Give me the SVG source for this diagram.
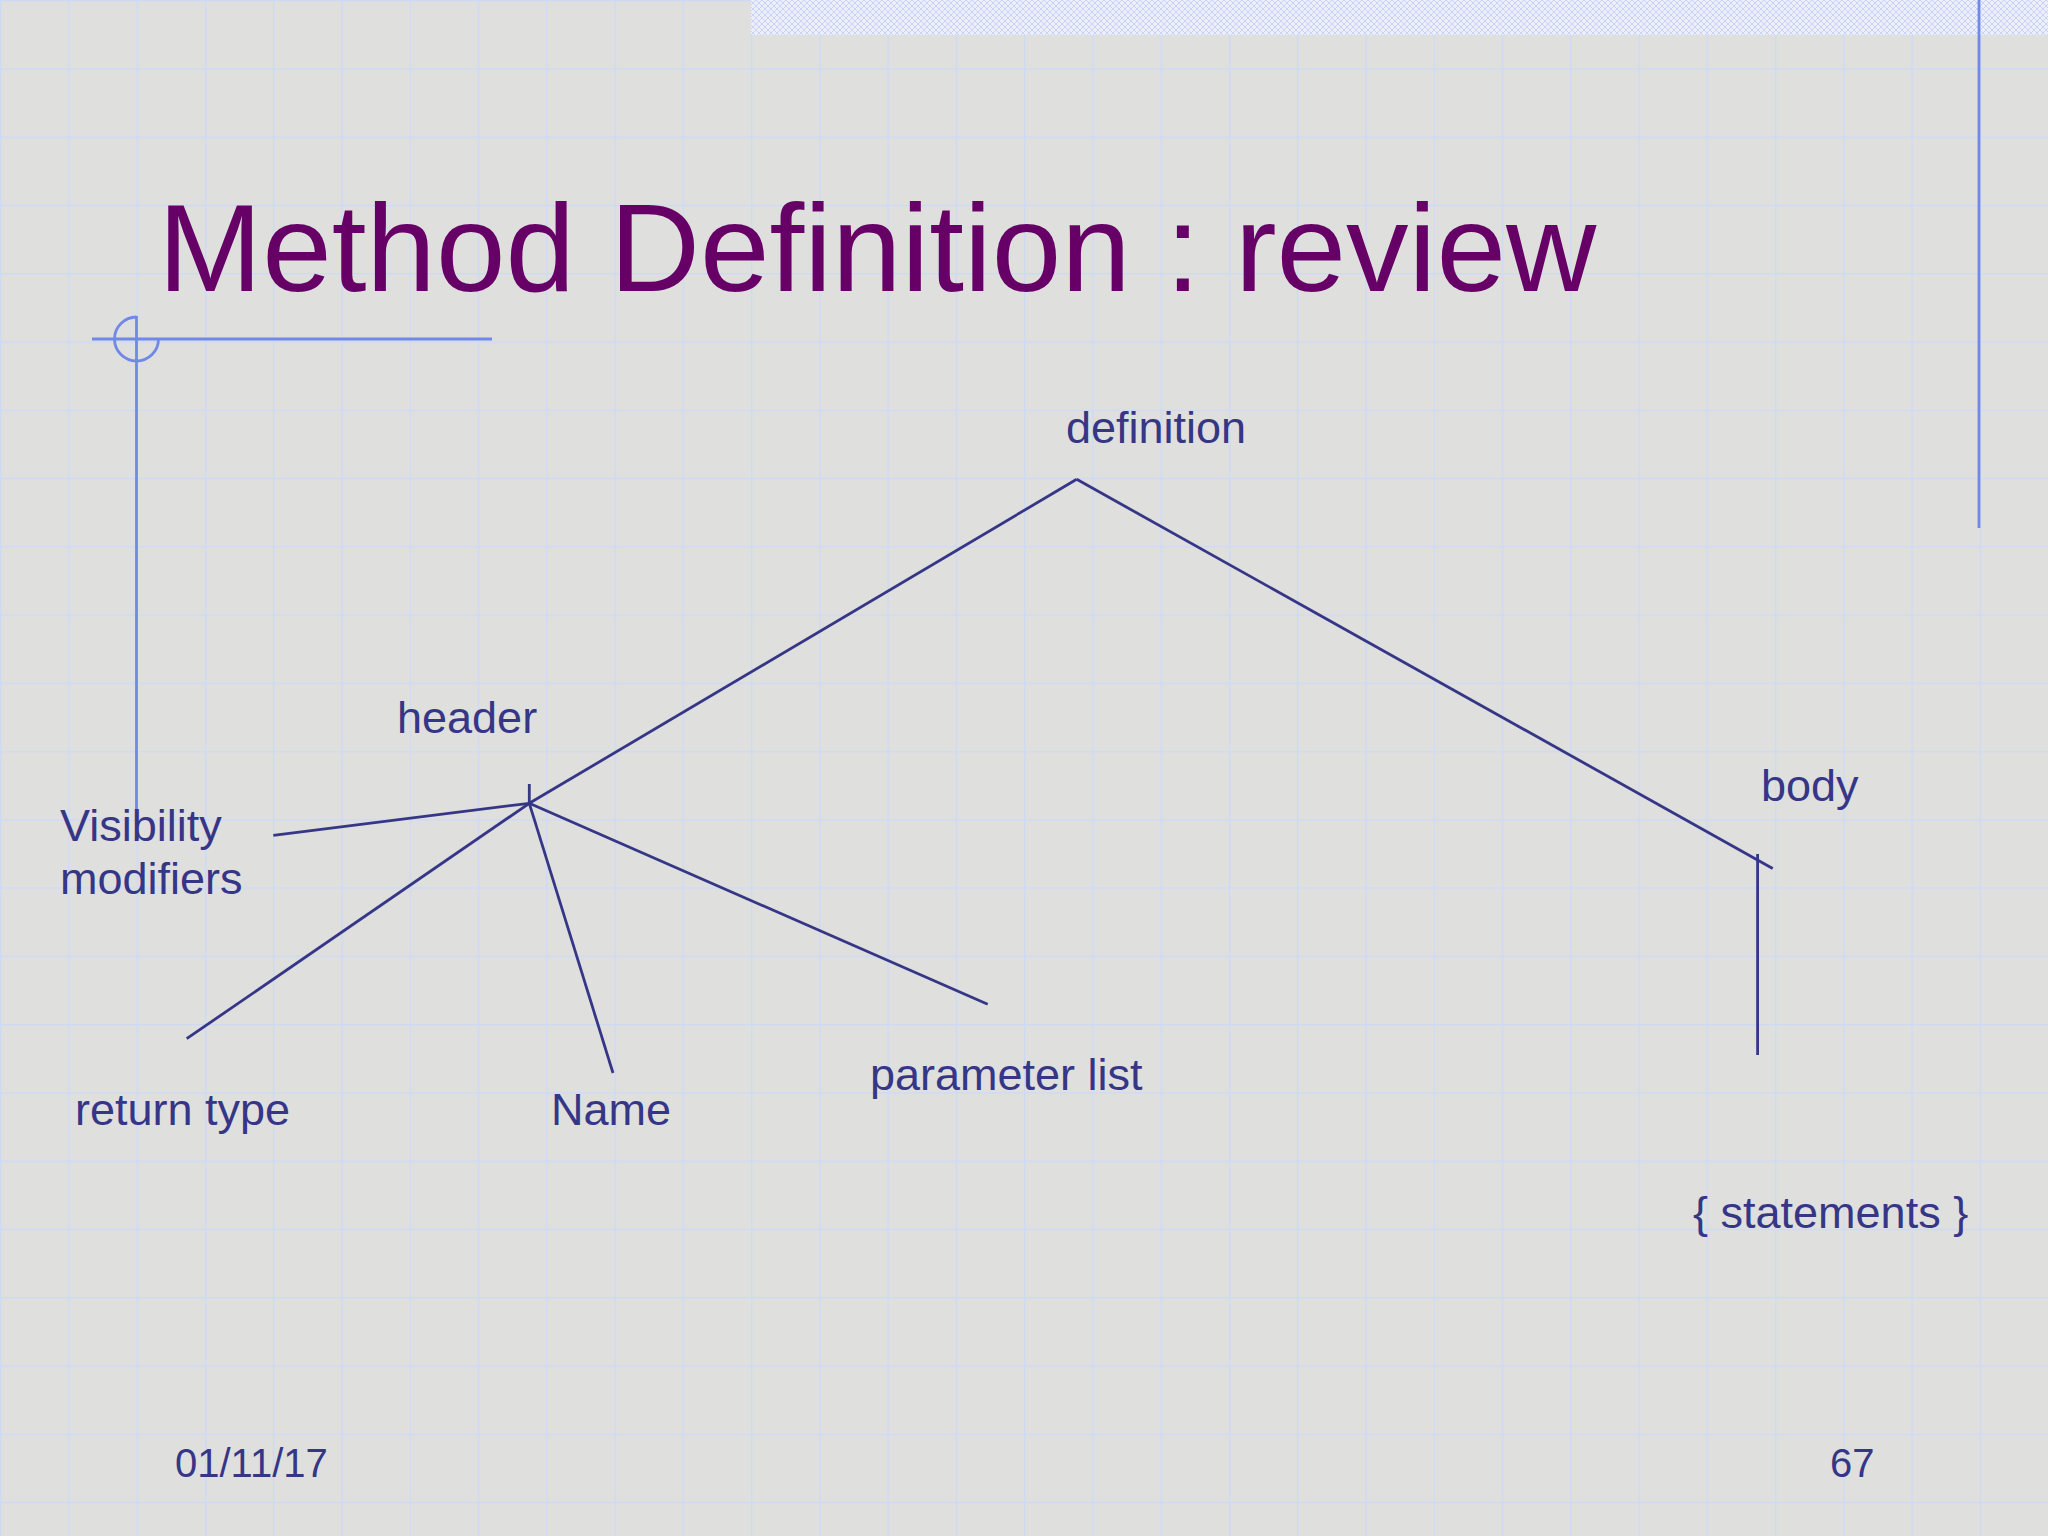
<svg xmlns="http://www.w3.org/2000/svg" width="2048" height="1536" viewBox="0 0 2048 1536">
  <defs>
    <pattern id="grid" x="0" y="0" width="68.267" height="68.267" patternUnits="userSpaceOnUse">
      <rect width="68.267" height="68.267" fill="#dfdfde"/>
      <path d="M0,0 V68.267 M0,0 H68.267" stroke="#cddaf7" stroke-width="2.6" fill="none"/>
    </pattern>
    <pattern id="hatch" x="0" y="0" width="6" height="6" patternUnits="userSpaceOnUse">
      <rect width="6" height="6" fill="#eceff9"/>
      <path d="M0,0 L6,6 M6,0 L0,6" stroke="#c9d3f4" stroke-width="1" fill="none"/>
    </pattern>
    <style>
      .lbl { font-family: "Liberation Sans", Arial, sans-serif; font-size: 45px; fill: #363687; }
      .foot { font-family: "Liberation Sans", Arial, sans-serif; font-size: 40px; fill: #363687; }
      .title { font-family: "Liberation Sans", Arial, sans-serif; font-size: 125px; fill: #660066; }
      .edge { stroke: #363687; stroke-width: 2.8; fill: none; stroke-linecap: butt; }
      .deco { stroke: #7089e6; stroke-width: 2.8; fill: none; }
    </style>
  </defs>

  <!-- background -->
  <rect x="0" y="0" width="2048" height="1536" fill="url(#grid)"/>
  <rect x="751" y="0" width="1297" height="35" fill="url(#hatch)"/>

  <!-- decorations -->
  <g id="decorations">
    <line class="deco" x1="1979" y1="0" x2="1979" y2="528" stroke-width="2.2"/>
    <line class="deco" x1="92" y1="339" x2="492" y2="339"/>
    <line class="deco" x1="136.5" y1="316" x2="136.5" y2="810"/>
    <path class="deco" d="M136.5,317 A22,22 0 1,0 158.5,339"/>
  </g>

  <text id="title" class="title" x="158" y="291">Method Definition : review</text>

  <g id="connectors">
    <line class="edge" x1="1076.7" y1="479.3" x2="529.3" y2="803.3"/>
    <line class="edge" x1="1076.7" y1="479.3" x2="1772.7" y2="868.5"/>
    <line class="edge" x1="529.3" y1="784" x2="529.3" y2="803.3"/>
    <line class="edge" x1="529.3" y1="803.3" x2="273.3" y2="835.3"/>
    <line class="edge" x1="529.3" y1="803.3" x2="186.7" y2="1038.7"/>
    <line class="edge" x1="529.3" y1="803.3" x2="613" y2="1073"/>
    <line class="edge" x1="529.3" y1="803.3" x2="987.7" y2="1004.3"/>
    <line class="edge" x1="1757.6" y1="854" x2="1757.6" y2="1055"/>
  </g>

  <g id="node-definition"><text class="lbl" x="1066" y="443">definition</text></g>
  <g id="node-header"><text class="lbl" x="397" y="733">header</text></g>
  <g id="node-body"><text class="lbl" x="1761" y="801">body</text></g>
  <g id="node-visibility">
    <text class="lbl" x="60" y="841">Visibility</text>
    <text class="lbl" x="60" y="894">modifiers</text>
  </g>
  <g id="node-return"><text class="lbl" x="75" y="1125">return type</text></g>
  <g id="node-name"><text class="lbl" x="551" y="1125">Name</text></g>
  <g id="node-params"><text class="lbl" x="870" y="1090">parameter list</text></g>
  <g id="node-statements"><text class="lbl" x="1693" y="1228">{ statements }</text></g>

  <g id="footer">
    <text class="foot" x="175" y="1477">01/11/17</text>
    <text class="foot" x="1830" y="1477">67</text>
  </g>
</svg>
